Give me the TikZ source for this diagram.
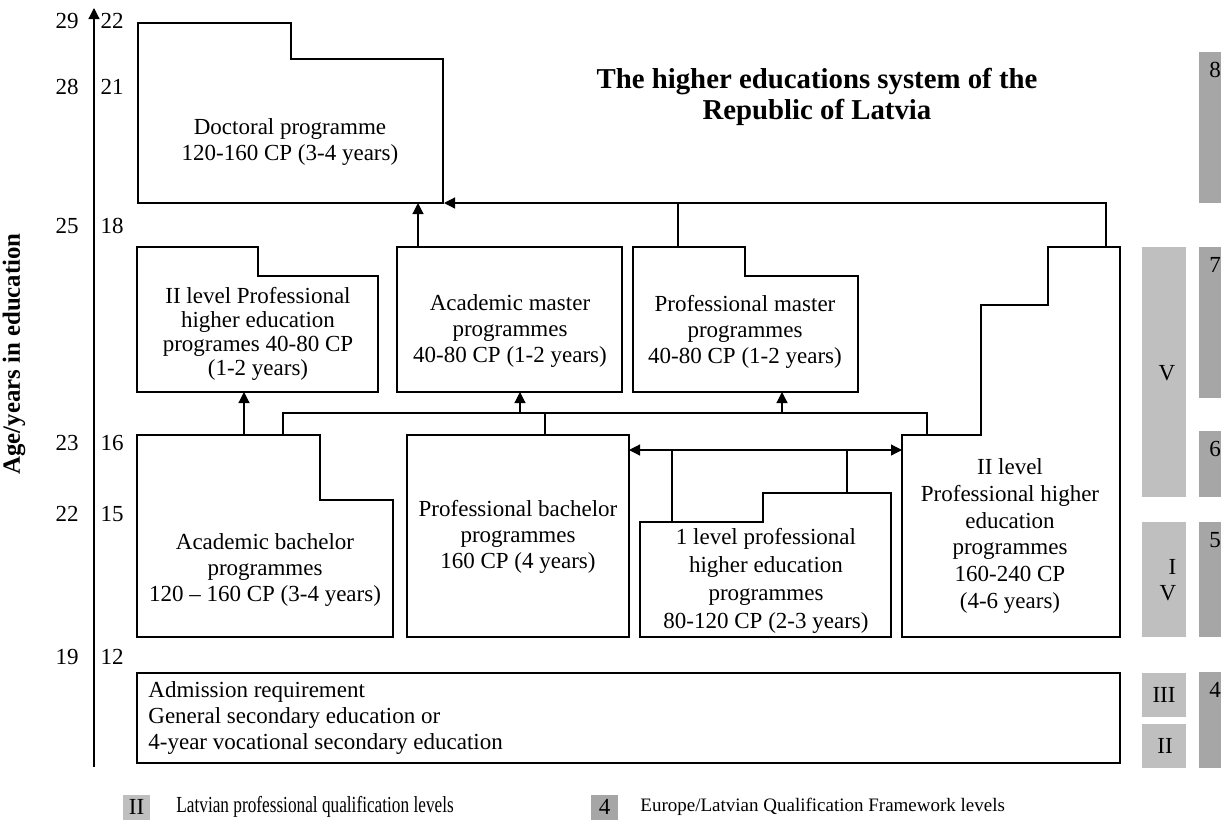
\documentclass[tikz,border=0pt]{standalone}
\usepackage{fontspec}
\setmainfont{Liberation Serif}
\usetikzlibrary{arrows.meta}

\definecolor{lvlgrey}{RGB}{191,191,191}
\definecolor{eqfgrey}{RGB}{166,166,166}

\tikzset{
  prog/.style={draw=black, line width=0.6pt},
  txt/.style={align=center, inner sep=0pt, font=\fontsize{11.5}{13}\selectfont},
  link/.style={line width=0.6pt, -{Triangle[length=5.5pt,width=5.5pt]}},
  joint/.style={line width=0.6pt},
  lvlbar/.style={fill=lvlgrey, draw=none},
  eqfbar/.style={fill=eqfgrey, draw=none},
  age/.style={inner sep=0pt, font=\fontsize{11.5}{13}\selectfont}
}

\begin{document}
\begin{tikzpicture}[x=0.5pt,y=-0.5pt]
    \useasboundingbox (0,0) rectangle (1221,831);

    % Axis
    \coordinate (ax0) at (94,767);
    \coordinate (ax1) at (94,8);
    \draw[link] (ax0) -- (ax1);
    \node[rotate=90, inner sep=0pt, font=\fontsize{12.4}{14}\selectfont\bfseries] (axlbl) at (14,354) {Age/years in education};

    % Age / years labels
    \foreach \yy/\aa/\bb in {21/29/22, 87/28/21, 226/25/18, 443/23/16, 514/22/15, 657/19/12} {
        \node[age] (age\aa) at (67,\yy) {\aa};
        \node[age] (yrs\bb) at (112,\yy) {\bb};
    }

    % Title
    \node[align=center, inner sep=0pt, font=\fontsize{14.4}{15.5}\selectfont\bfseries] (title) at (817,97) {The higher educations system of the\\Republic of Latvia};

    % Doctoral programme
    \draw[prog] (138,23) -- (291,23) -- (291,59) -- (443,59) -- (443,203) -- (138,203) -- cycle;
    \node[txt] (doc) at (290,142) {Doctoral programme\\120-160 CP (3-4 years)};

    % Second row
    \draw[prog] (137,247) -- (258,247) -- (258,276) -- (378,276) -- (378,392) -- (137,392) -- cycle;
    \node[txt, font=\fontsize{11.5}{12}\selectfont] (prof2) at (258,334) {II level Professional\\higher education\\programes 40-80 CP\\(1-2 years)};
    \draw[prog] (397,247) rectangle (622,392);
    \node[txt] (amas) at (510,331) {Academic master\\programmes\\40-80 CP (1-2 years)};
    \draw[prog] (633,247) -- (745,247) -- (745,276) -- (858,276) -- (858,392) -- (633,392) -- cycle;
    \node[txt] (pmas) at (745,332) {Professional master\\programmes\\40-80 CP (1-2 years)};

    % Third row
    \draw[prog] (137,435) -- (320,435) -- (320,500) -- (393,500) -- (393,637) -- (137,637) -- cycle;
    \node[txt] (abach) at (265,570) {Academic bachelor\\programmes\\120 -- 160 CP (3-4 years)};
    \draw[prog] (407,435) rectangle (629,637);
    \node[txt] (pbach) at (518,537) {Professional bachelor\\programmes\\160 CP (4 years)};
    \draw[prog] (640,522) -- (763,522) -- (763,493) -- (891,493) -- (891,637) -- (640,637) -- cycle;
    \node[txt, font=\fontsize{11.5}{14}\selectfont] (prof1) at (766,581) {1 level professional\\higher education\\programmes\\80-120 CP (2-3 years)};
    \draw[prog] (902,435) -- (981,435) -- (981,305) -- (1048,305) -- (1048,247) -- (1120,247) -- (1120,637) -- (902,637) -- cycle;
    \node[txt, font=\fontsize{11.5}{13.4}\selectfont] (prof2l) at (1010,536) {II level\\Professional higher\\education\\programmes\\160-240 CP\\(4-6 years)};

    % Admission requirement
    \draw[prog] (137,673) rectangle (1120,763);
    \node[txt, align=left, anchor=west] (adm) at (148,718) {Admission requirement\\General secondary education or\\4-year vocational secondary education};

    % Connector points
    \coordinate (doc-s) at (418,203);
    \coordinate (doc-se) at (444,203);
    \coordinate (amas-n) at (418,247);
    \coordinate (pmas-n) at (678,247);
    \coordinate (tall-n) at (1106,247);
    \coordinate (prof2-s) at (244,392);
    \coordinate (amas-s) at (520,392);
    \coordinate (pmas-s) at (782,392);
    \coordinate (abach-n) at (244,435);
    \coordinate (abach-n2) at (283,435);
    \coordinate (pbach-n) at (545,435);
    \coordinate (tall-w) at (927,435);
    \coordinate (pbach-e) at (629,450);
    \coordinate (tall-e) at (902,450);
    \coordinate (prof1-a) at (672,522);
    \coordinate (prof1-b) at (847,493);

    % Arrows to doctoral
    \draw[link] (amas-n) -- (doc-s);
    \draw[link] (tall-n) |- (doc-se);
    \draw[joint] (pmas-n) -- (pmas-n |- doc-se);

    % Arrows to masters
    \draw[link] (abach-n) -- (prof2-s);
    \draw[joint] (abach-n2) -- ++(0,-22) -| (tall-w);
    \draw[joint] (pbach-n) -- ++(0,-22);
    \draw[link] (amas-s |- 0,413) -- (amas-s);
    \draw[link] (pmas-s |- 0,413) -- (pmas-s);

    % Between bachelors
    \draw[link, {Triangle[length=5.5pt,width=5.5pt]}-{Triangle[length=5.5pt,width=5.5pt]}] (pbach-e) -- (tall-e);
    \draw[joint] (prof1-a) -- (prof1-a |- pbach-e);
    \draw[joint] (prof1-b) -- (prof1-b |- pbach-e);

    % Latvian qualification levels
    \fill[lvlbar] (1142,247) rectangle (1186,497);
    \fill[lvlbar] (1142,522) rectangle (1186,637);
    \fill[lvlbar] (1142,673) rectangle (1186,717);
    \fill[lvlbar] (1142,724) rectangle (1186,768);
    \node[age] (lv5) at (1167,373) {V};
    \node[age, align=right] (lv4) at (1168,580) {I\\V};
    \node[age] (lv3) at (1164,695) {III};
    \node[age] (lv2) at (1165,746) {II};

    % EQF levels
    \foreach \ya/\yb/\nn in {52/203/8, 247/398/7, 431/497/6, 522/637/5, 672/768/4} {
        \fill[eqfbar] (1199,\ya) rectangle (1221,\yb);
        \node[age, anchor=north west] (eqf\nn) at (1209,\ya+10) {\nn};
    }

    % Legend
    \fill[lvlbar] (123,795) rectangle (150,820);
    \node[age] (keylv) at (136.5,807) {II};
    \node[age, anchor=west] (keylvt) at (176,807) {\scalebox{0.75}[1]{Latvian professional qualification levels}};
    \fill[eqfbar] (591,795) rectangle (618,820);
    \node[age] (keyeqf) at (604.5,807) {4};
    \node[inner sep=0pt, anchor=west, font=\fontsize{9.5}{11}\selectfont] (keyeqft) at (640,807) {Europe/Latvian Qualification Framework levels};

\end{tikzpicture}
\end{document}
